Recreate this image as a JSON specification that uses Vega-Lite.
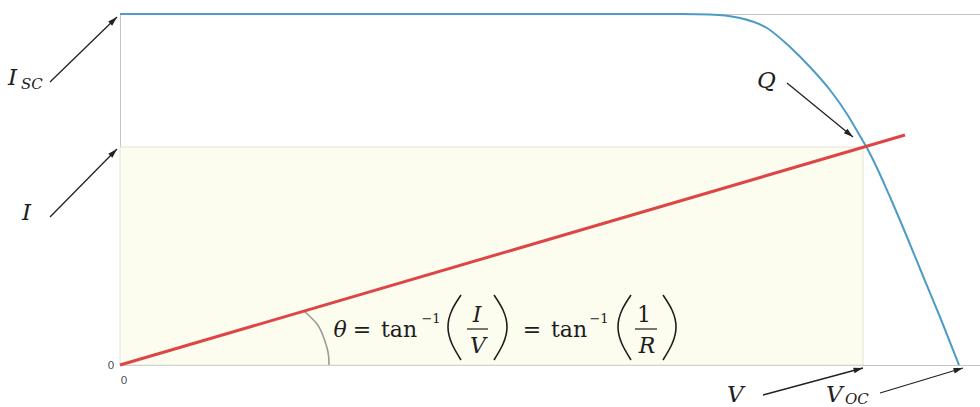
{
  "$schema": "https://vega.github.io/schema/vega-lite/v6.json",
  "width": 860,
  "height": 351,
  "autosize": {"type": "none"},
  "padding": {"left": 120, "top": 14, "right": 0, "bottom": 42},
  "background": "white",
  "config": {"view": {"stroke": "#c4c4c4", "strokeWidth": 1}},
  "datasets": {
    "curve": [
      {"v": 0, "i": 351}, {"v": 300, "i": 351}, {"v": 560, "i": 351}, {"v": 590, "i": 350.5},
      {"v": 605, "i": 349.5}, {"v": 620, "i": 347}, {"v": 647, "i": 337}, {"v": 670, "i": 318},
      {"v": 690, "i": 298}, {"v": 710, "i": 275}, {"v": 727, "i": 251}, {"v": 740, "i": 229},
      {"v": 747, "i": 217}, {"v": 757, "i": 197}, {"v": 770, "i": 168}, {"v": 787, "i": 128},
      {"v": 803, "i": 89}, {"v": 820, "i": 48}, {"v": 839, "i": 0}
    ],
    "load": [{"v": 0, "i": 0}, {"v": 785, "i": 230}],
    "rect": [{"v": 0, "v2": 743, "i": 0, "i2": 218}],
    "arc": [
      {"k": 0, "v": 209, "i": 0}, {"k": 1, "v": 208, "i": 13}, {"k": 2, "v": 203.5, "i": 28},
      {"k": 3, "v": 197, "i": 41}, {"k": 4, "v": 184, "i": 54}
    ],
    "arrows": [
      {"name": "ISC", "v": -70, "i": 283, "v2": -3, "i2": 348},
      {"name": "I", "v": -70, "i": 148, "v2": -3, "i2": 216},
      {"name": "Q", "v": 667, "i": 282, "v2": 733, "i2": 228},
      {"name": "V", "v": 643, "i": -30, "v2": 743, "i2": -3},
      {"name": "VOC", "v": 760, "i": -28, "v2": 843, "i2": -3}
    ],
    "labels": [
      {"t": "I", "v": -112, "i": 280},
      {"t": "I", "v": -98, "i": 145},
      {"t": "Q", "v": 637, "i": 277},
      {"t": "V", "v": 607, "i": -37},
      {"t": "V", "v": 706, "i": -37}
    ],
    "subs": [
      {"t": "SC", "v": -99, "i": 276},
      {"t": "OC", "v": 725, "i": -39}
    ],
    "fit": [
      {"t": "θ", "v": 220, "i": 28},
      {"t": "I", "v": 357, "i": 43},
      {"t": "V", "v": 358, "i": 12},
      {"t": "R", "v": 527, "i": 12}
    ],
    "fup": [
      {"t": "=", "v": 242, "i": 28},
      {"t": "tan", "v": 279, "i": 28},
      {"t": "=", "v": 412, "i": 28},
      {"t": "tan", "v": 449, "i": 28},
      {"t": "1", "v": 524, "i": 43}
    ],
    "fsup": [
      {"t": "−1", "v": 311, "i": 42},
      {"t": "−1", "v": 479, "i": 42}
    ],
    "bars": [
      {"v": 347, "v2": 368, "i": 36},
      {"v": 515, "v2": 537, "i": 36}
    ],
    "parens": [
      {"p": "a", "k": 0, "v": 341, "i": 70}, {"p": "a", "k": 1, "v": 332, "i": 55}, {"p": "a", "k": 2, "v": 328, "i": 38}, {"p": "a", "k": 3, "v": 332, "i": 21}, {"p": "a", "k": 4, "v": 341, "i": 5},
      {"p": "b", "k": 0, "v": 374, "i": 70}, {"p": "b", "k": 1, "v": 383, "i": 55}, {"p": "b", "k": 2, "v": 387, "i": 38}, {"p": "b", "k": 3, "v": 383, "i": 21}, {"p": "b", "k": 4, "v": 374, "i": 5},
      {"p": "c", "k": 0, "v": 511, "i": 70}, {"p": "c", "k": 1, "v": 502, "i": 55}, {"p": "c", "k": 2, "v": 498, "i": 38}, {"p": "c", "k": 3, "v": 502, "i": 21}, {"p": "c", "k": 4, "v": 511, "i": 5},
      {"p": "d", "k": 0, "v": 543, "i": 70}, {"p": "d", "k": 1, "v": 552, "i": 55}, {"p": "d", "k": 2, "v": 556, "i": 38}, {"p": "d", "k": 3, "v": 552, "i": 21}, {"p": "d", "k": 4, "v": 543, "i": 5}
    ]
  },
  "layer": [
    {
      "data": {"name": "rect"},
      "mark": {"type": "rect", "fill": "#fdfdef", "stroke": "#e2e2d6", "strokeWidth": 1, "clip": false},
      "encoding": {
        "x": {"field": "v", "type": "quantitative", "title": null, "scale": {"domain": [0, 860], "nice": false, "zero": false},
              "axis": {"values": [0], "title": null, "domain": false, "ticks": false, "grid": false, "labelFontSize": 11, "labelColor": "#555", "labelPadding": 9, "labelFont": "DejaVu Sans"}},
        "x2": {"field": "v2"},
        "y": {"field": "i", "type": "quantitative", "title": null, "scale": {"domain": [0, 351], "nice": false, "zero": false},
              "axis": {"values": [0], "title": null, "domain": false, "ticks": false, "grid": false, "labelFontSize": 11, "labelColor": "#555", "labelPadding": 6, "labelFont": "DejaVu Sans"}},
        "y2": {"field": "i2"}
      }
    },
    {
      "data": {"name": "curve"},
      "mark": {"type": "line", "color": "#4b9cc6", "strokeWidth": 2, "interpolate": "monotone", "clip": false},
      "encoding": {
        "x": {"field": "v", "type": "quantitative", "title": null},
        "y": {"field": "i", "type": "quantitative", "title": null}
      }
    },
    {
      "data": {"name": "arc"},
      "mark": {"type": "line", "color": "#9a9a9a", "strokeWidth": 1.6, "interpolate": "natural", "clip": false},
      "encoding": {
        "x": {"field": "v", "type": "quantitative", "title": null},
        "y": {"field": "i", "type": "quantitative", "title": null},
        "order": {"field": "k", "type": "quantitative"}
      }
    },
    {
      "data": {"name": "load"},
      "mark": {"type": "line", "color": "#dc4646", "strokeWidth": 3, "clip": false},
      "encoding": {
        "x": {"field": "v", "type": "quantitative", "title": null},
        "y": {"field": "i", "type": "quantitative", "title": null}
      }
    },
    {
      "data": {"name": "arrows"},
      "mark": {"type": "rule", "color": "#222222", "strokeWidth": 1.3, "clip": false},
      "encoding": {
        "x": {"field": "v", "type": "quantitative", "title": null},
        "y": {"field": "i", "type": "quantitative", "title": null},
        "x2": {"field": "v2"},
        "y2": {"field": "i2"}
      }
    },
    {
      "data": {"name": "arrows"},
      "transform": [{"calculate": "atan2(datum.v2 - datum.v, datum.i2 - datum.i) * 180 / PI", "as": "dir"}],
      "mark": {"type": "point", "shape": "M0,0L-0.6,2L0.6,2Z", "filled": true, "color": "#222222", "opacity": 1, "size": 90, "clip": false},
      "encoding": {
        "x": {"field": "v2", "type": "quantitative", "title": null},
        "y": {"field": "i2", "type": "quantitative", "title": null},
        "angle": {"field": "dir", "type": "quantitative", "scale": null}
      }
    },
    {
      "data": {"name": "labels"},
      "mark": {"type": "text", "font": "DejaVu Serif", "fontStyle": "italic", "fontSize": 23, "align": "left", "baseline": "alphabetic", "color": "#1e1e1e", "clip": false},
      "encoding": {
        "x": {"field": "v", "type": "quantitative", "title": null},
        "y": {"field": "i", "type": "quantitative", "title": null},
        "text": {"field": "t"}
      }
    },
    {
      "data": {"name": "subs"},
      "mark": {"type": "text", "font": "DejaVu Serif", "fontStyle": "italic", "fontSize": 15, "align": "left", "baseline": "alphabetic", "color": "#1e1e1e", "clip": false},
      "encoding": {
        "x": {"field": "v", "type": "quantitative", "title": null},
        "y": {"field": "i", "type": "quantitative", "title": null},
        "text": {"field": "t"}
      }
    },
    {
      "data": {"name": "fit"},
      "mark": {"type": "text", "font": "DejaVu Serif", "fontStyle": "italic", "fontSize": 22, "align": "center", "baseline": "alphabetic", "color": "#1e1e1e", "clip": false},
      "encoding": {
        "x": {"field": "v", "type": "quantitative", "title": null},
        "y": {"field": "i", "type": "quantitative", "title": null},
        "text": {"field": "t"}
      }
    },
    {
      "data": {"name": "fup"},
      "mark": {"type": "text", "font": "DejaVu Serif", "fontSize": 22, "align": "center", "baseline": "alphabetic", "color": "#1e1e1e", "clip": false},
      "encoding": {
        "x": {"field": "v", "type": "quantitative", "title": null},
        "y": {"field": "i", "type": "quantitative", "title": null},
        "text": {"field": "t"}
      }
    },
    {
      "data": {"name": "fsup"},
      "mark": {"type": "text", "font": "DejaVu Serif", "fontSize": 13, "align": "center", "baseline": "alphabetic", "color": "#1e1e1e", "clip": false},
      "encoding": {
        "x": {"field": "v", "type": "quantitative", "title": null},
        "y": {"field": "i", "type": "quantitative", "title": null},
        "text": {"field": "t"}
      }
    },
    {
      "data": {"name": "bars"},
      "mark": {"type": "rule", "color": "#1e1e1e", "strokeWidth": 1.2, "clip": false},
      "encoding": {
        "x": {"field": "v", "type": "quantitative", "title": null},
        "x2": {"field": "v2"},
        "y": {"field": "i", "type": "quantitative", "title": null}
      }
    },
    {
      "data": {"name": "parens"},
      "mark": {"type": "line", "color": "#1e1e1e", "strokeWidth": 1.6, "interpolate": "natural", "clip": false},
      "encoding": {
        "x": {"field": "v", "type": "quantitative", "title": null},
        "y": {"field": "i", "type": "quantitative", "title": null},
        "detail": {"field": "p"},
        "order": {"field": "k", "type": "quantitative"}
      }
    }
  ]
}
